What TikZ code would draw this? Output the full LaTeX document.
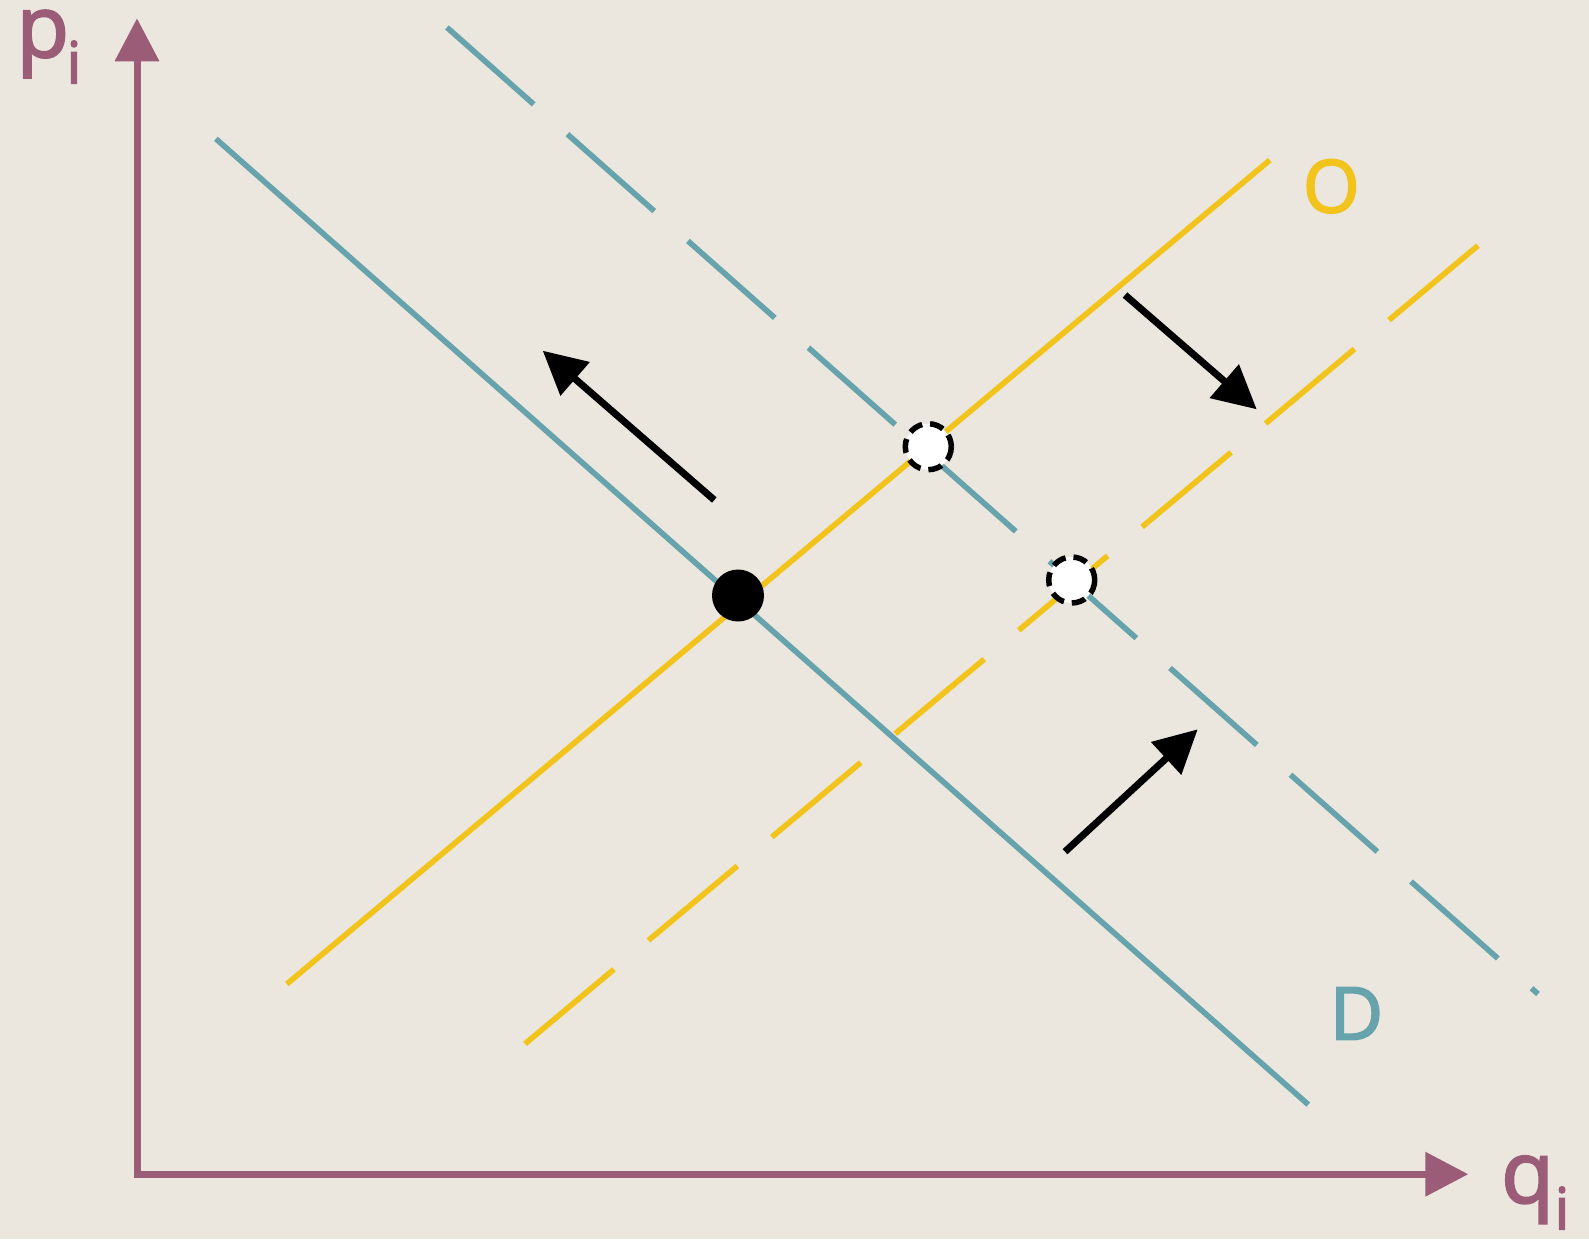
\documentclass[tikz,border=0pt]{standalone}
\usepackage{fontspec}
\setmainfont{Open Sans}
\newfontfamily\rotulo[FakeBold=2.5]{Open Sans}
\usetikzlibrary{arrows.meta}
\definecolor{fondo}{HTML}{EBE7DE}
\definecolor{demanda}{HTML}{67A3AC}
\definecolor{oferta}{HTML}{F2C31B}
\definecolor{ejes}{HTML}{9B5C77}
\begin{document}
\begin{tikzpicture}[x=1pt,y=-1pt,
  eje/.style={ejes,line width=7pt,line join=miter,{Triangle[length=43pt,width=43pt]}-{Triangle[length=43pt,width=43pt]}},
  curva/.style={line width=5.6pt},
  desplazada/.style={line width=5.6pt,dash pattern=on 116pt off 45pt},
  flecha/.style={line width=7pt,-{Triangle[length=43pt,width=43pt]}},
  nuevo/.style={fill=white,draw=black,line width=5.5pt,dash pattern=on 14pt off 8pt},
  etiqueta/.style={inner sep=0pt}]
  % fondo
  \fill[fondo] (0,0) rectangle (1589,1239);
  \useasboundingbox (0,0) rectangle (1589,1239);
  % ejes
  \draw[eje] (137,18.3) -- (137,1174.2) -- (1468.3,1174.2);
  \node[etiqueta,text=ejes,font=\rotulo\fontsize{86}{90}\selectfont] (p) at (42.8,44) {p};
  \node[etiqueta,text=ejes,font=\rotulo\fontsize{58}{60}\selectfont] (pi) at (74,62) {i};
  \node[etiqueta,text=ejes,font=\rotulo\fontsize{86}{90}\selectfont] (q) at (1527.5,1189.7) {q};
  \node[etiqueta,text=ejes,font=\rotulo\fontsize{58}{60}\selectfont] (qi) at (1562,1208) {i};
  % demanda D y oferta O
  \draw[curva,demanda] (215.9,138.8) -- (1308.3,1104.6);
  \draw[curva,oferta] (286.8,984.0) -- (1269.8,160.1);
  % curvas desplazadas
  \draw[desplazada,demanda] (446.9,27.4) -- (1538,994);
  \draw[desplazada,oferta] (525.0,1043.8) -- (1479.6,244.2);
  \node[etiqueta,text=oferta,font=\rotulo\fontsize{73}{75}\selectfont] (O) at (1331.3,186.3) {O};
  \node[etiqueta,text=demanda,font=\rotulo\fontsize{73}{75}\selectfont] (D) at (1356.5,1013.5) {D};
  % equilibrios
  \coordinate (E0) at (738,595.5);
  \coordinate (E1) at (928.3,446.7);
  \coordinate (E2) at (1071.7,580);
  \fill (E0) circle (26);
  \draw[nuevo] (E1) circle (23);
  \draw[nuevo] (E2) circle (23);
  % desplazamientos
  \draw[flecha] (714.3,500) -- (542.7,350.7);
  \draw[flecha] (1125,295) -- (1256.7,409.3);
  \draw[flecha] (1065,851.7) -- (1197.7,729.3);
\end{tikzpicture}
\end{document}
